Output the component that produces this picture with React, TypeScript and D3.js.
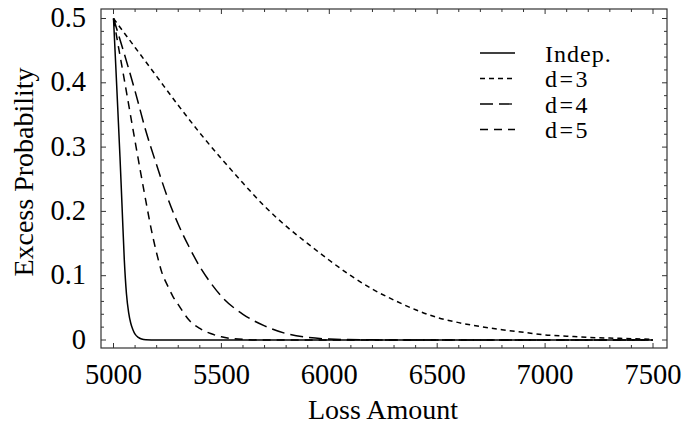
import React from "react";
import * as d3 from "d3";

// values
const indepLoss = [5000, 5010, 5020, 5030, 5040, 5050, 5060, 5070, 5080, 5090, 5100, 5115, 5130, 5150, 5200, 7500];
const indepProb = [0.5, 0.43, 0.358, 0.285, 0.205, 0.125, 0.072, 0.043, 0.026, 0.016, 0.009, 0.004, 0.0015, 0.0003, 0, 0];

const d3Loss = [5000, 5100, 5200, 5300, 5400, 5500, 5600, 5700, 5800, 5900, 6000, 6100, 6200, 6300, 6400, 6500, 6600, 6700, 6800, 6900, 7000, 7100, 7200, 7300, 7400, 7500];
const d3Prob = [0.5, 0.455, 0.41, 0.365, 0.322, 0.282, 0.244, 0.208, 0.177, 0.15, 0.124, 0.1, 0.079, 0.062, 0.047, 0.035, 0.027, 0.021, 0.016, 0.012, 0.008, 0.006, 0.004, 0.003, 0.002, 0.001];

const d4Loss = [5000, 5050, 5100, 5150, 5200, 5250, 5300, 5350, 5400, 5450, 5500, 5600, 5700, 5800, 5900, 6000, 6200, 6500, 7500];
const d4Prob = [0.5, 0.445, 0.387, 0.325, 0.272, 0.222, 0.18, 0.145, 0.114, 0.089, 0.068, 0.04, 0.022, 0.01, 0.004, 0.0015, 0.0002, 0, 0];

const d5Loss = [5000, 5025, 5050, 5075, 5100, 5125, 5150, 5175, 5200, 5225, 5250, 5275, 5300, 5350, 5400, 5450, 5500, 5600, 5700, 7500];
const d5Prob = [0.5, 0.452, 0.405, 0.357, 0.309, 0.262, 0.216, 0.172, 0.135, 0.104, 0.085, 0.068, 0.055, 0.031, 0.018, 0.01, 0.005, 0.001, 0, 0];

const seriesNames = ["Indep.", "d=3", "d=4", "d=5"];
const xTicks = [5000, 5500, 6000, 6500, 7000, 7500];
const yTicks = [0, 0.1, 0.2, 0.3, 0.4, 0.5];
const yTickLabels = ["0", "0.1", "0.2", "0.3", "0.4", "0.5"];

const W = 682;
const H = 426;
const frame = { left: 101, right: 667, top: 9, bottom: 348 };
const font = "'Liberation Serif', 'Times New Roman', serif";

export default function App() {
  // scales: 5000 -> 113.5px, 7500 -> 653px ; 0 -> 340px, 0.5 -> 18.5px
  const x = d3.scaleLinear().domain([5000, 7500]).range([113.5, 653]);
  const y = d3.scaleLinear().domain([0, 0.5]).range([340, 18.5]);

  const series = [
    { name: seriesNames[0], xs: indepLoss, ys: indepProb, dash: "none" },
    { name: seriesNames[1], xs: d3Loss, ys: d3Prob, dash: "5,4" },
    { name: seriesNames[2], xs: d4Loss, ys: d4Prob, dash: "13,6" },
    { name: seriesNames[3], xs: d5Loss, ys: d5Prob, dash: "8,6" },
  ];

  const line = d3
    .line<[number, number]>()
    .x((d) => x(d[0]))
    .y((d) => y(d[1]))
    .curve(d3.curveMonotoneX);

  const xMinor = d3.range(5000, 7501, 100).filter((v) => v % 500 !== 0);
  const yMinor = d3.range(0, 51, 2).map((v) => v / 100).filter((v) => Math.round(v * 100) % 10 !== 0);

  return (
    <svg width={W} height={H} style={{ position: "absolute", left: 0, top: 0, background: "#fff" }}>
      <defs>
        <clipPath id="plot">
          <rect x={frame.left} y={frame.top} width={frame.right - frame.left} height={frame.bottom - frame.top} />
        </clipPath>
      </defs>

      {/* curves */}
      <g clipPath="url(#plot)">
        {series.map((s) => (
          <path
            key={s.name}
            d={line(s.xs.map((v, i) => [v, s.ys[i]] as [number, number])) || ""}
            fill="none"
            stroke="#000"
            strokeWidth={1.5}
            strokeDasharray={s.dash}
          />
        ))}
      </g>

      {/* frame */}
      <rect
        x={frame.left}
        y={frame.top}
        width={frame.right - frame.left}
        height={frame.bottom - frame.top}
        fill="none"
        stroke="#333"
        strokeWidth={1.2}
      />

      {/* ticks on all four sides, pointing inward */}
      <g stroke="#333" strokeWidth={1}>
        {xTicks.map((v) => (
          <g key={"xt" + v}>
            <line x1={x(v)} x2={x(v)} y1={frame.bottom} y2={frame.bottom - 5} />
            <line x1={x(v)} x2={x(v)} y1={frame.top} y2={frame.top + 5} />
          </g>
        ))}
        {xMinor.map((v) => (
          <g key={"xm" + v}>
            <line x1={x(v)} x2={x(v)} y1={frame.bottom} y2={frame.bottom - 3} />
            <line x1={x(v)} x2={x(v)} y1={frame.top} y2={frame.top + 3} />
          </g>
        ))}
        {yTicks.map((v) => (
          <g key={"yt" + v}>
            <line x1={frame.left} x2={frame.left + 5} y1={y(v)} y2={y(v)} />
            <line x1={frame.right} x2={frame.right - 5} y1={y(v)} y2={y(v)} />
          </g>
        ))}
        {yMinor.map((v) => (
          <g key={"ym" + v}>
            <line x1={frame.left} x2={frame.left + 3} y1={y(v)} y2={y(v)} />
            <line x1={frame.right} x2={frame.right - 3} y1={y(v)} y2={y(v)} />
          </g>
        ))}
      </g>

      {/* tick labels */}
      <g fontFamily={font} fontSize={28.5} fill="#000">
        {xTicks.map((v) => (
          <text key={"xl" + v} x={x(v)} y={384} textAnchor="middle">
            {v}
          </text>
        ))}
        {yTicks.map((v, i) => (
          <text key={"yl" + v} x={86} y={y(v) + 8.5} textAnchor="end">
            {yTickLabels[i]}
          </text>
        ))}
      </g>

      {/* axis titles */}
      <text x={383} y={419} textAnchor="middle" fontFamily={font} fontSize={28}>
        Loss Amount
      </text>
      <text
        transform="translate(33,172) rotate(-90)"
        textAnchor="middle"
        fontFamily={font}
        fontSize={28}
      >
        Excess Probability
      </text>

      {/* legend */}
      <g fontFamily={font} fontSize={24}>
        {series.map((s, i) => {
          const ly = 53 + i * 25.5;
          return (
            <g key={"lg" + s.name}>
              <line x1={480} x2={515} y1={ly} y2={ly} stroke="#000" strokeWidth={1.3} strokeDasharray={s.dash} />
              <text x={545} y={ly + 8.5} letterSpacing={i > 0 ? 2.5 : 1}>
                {s.name}
              </text>
            </g>
          );
        })}
      </g>
    </svg>
  );
}
